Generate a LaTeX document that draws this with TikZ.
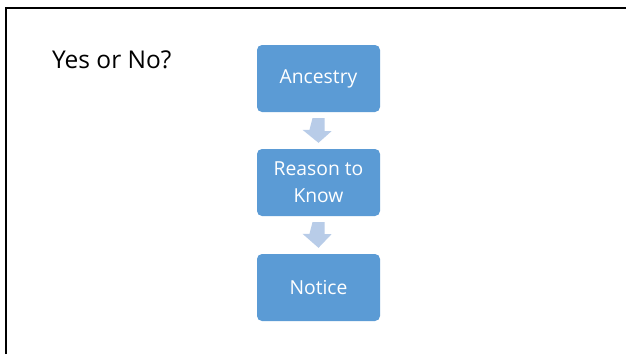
\documentclass[tikz,border=0pt]{standalone}
\usepackage{fontspec}
\setmainfont{Open Sans}
\definecolor{boxblue}{RGB}{91,155,213}
\definecolor{arrowblue}{RGB}{184,204,232}
\tikzset{
  stepbox/.style={draw=none, fill=boxblue, rounded corners=5pt, minimum width=123pt, minimum height=67pt, text=white, font=\fontsize{19.3}{27}\selectfont, align=center, inner sep=2pt},
  downarrow/.style={fill=arrowblue, draw=none}
}
\begin{document}
\begin{tikzpicture}[x=1pt,y=-1pt]
\useasboundingbox (0,0) rectangle (626,354);
\fill[white] (0,0) rectangle (626,354);
% slide frame
\draw[line width=2.5pt] (6,354) -- (6,8) -- (626,8);
\node[anchor=west, font=\fontsize{24.5}{28}\selectfont, inner sep=0pt] (title) at (52,60) {Yes or No?};
\node[stepbox] (a) at (318.5,78.5) {Ancestry};
\node[stepbox] (b) at (318.5,182.5) {Reason to\\Know};
\node[stepbox] (c) at (318.5,287.5) {Notice};
% arrows
\fill[downarrow] ([xshift=-6pt,yshift=-6pt]a.south) -- ++(12,0) -- ++(0,13) -- ++(7,0) -- ([yshift=6pt]b.north) -- ++(-16,-13) -- ++(7,0) -- cycle;
\fill[downarrow] ([xshift=-6pt,yshift=-6pt]b.south) -- ++(12,0) -- ++(0,12) -- ++(7,0) -- ([yshift=6pt]c.north) -- ++(-16,-14) -- ++(7,0) -- cycle;
\end{tikzpicture}
\end{document}
